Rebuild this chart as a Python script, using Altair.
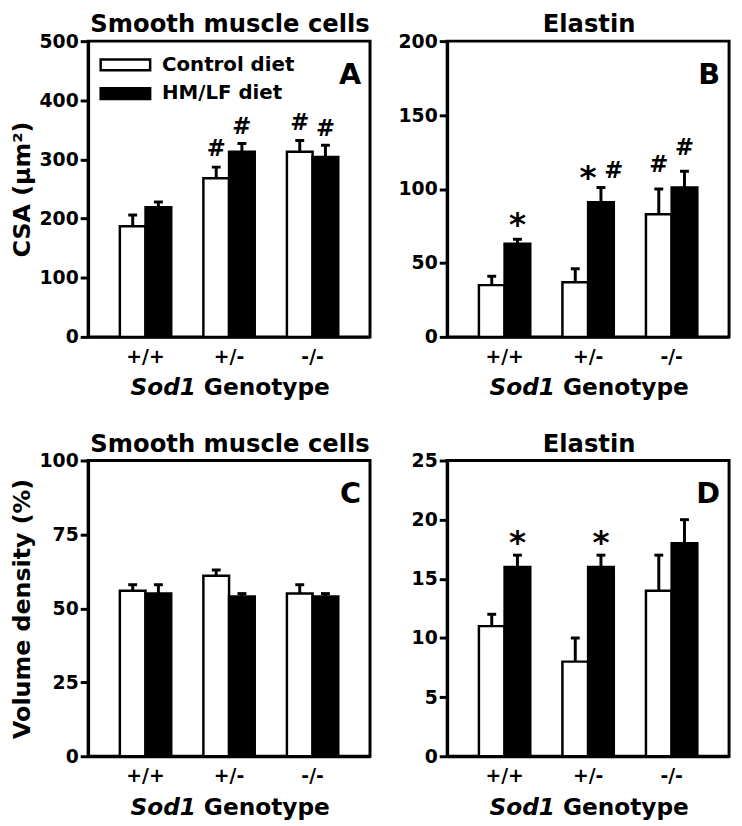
import altair as alt
import pandas as pd

genotypes = ["+/+", "+/-", "-/-"]
diets = ["Control diet", "HM/LF diet"]

# Panel A: smooth muscle cells, CSA (µm²)
a_control_mean = [187, 268, 313]
a_control_sem = [19, 19, 19]
a_hmlf_mean = [219, 313, 304]
a_hmlf_sem = [9, 14, 20]

# Panel B: elastin, CSA (µm²)
b_control_mean = [35, 37, 83]
b_control_sem = [6, 9, 17]
b_hmlf_mean = [63, 91, 101]
b_hmlf_sem = [3, 10, 11]

# Panel C: smooth muscle cells, volume density (%)
c_control_mean = [56, 61, 55]
c_control_sem = [2, 2, 3]
c_hmlf_mean = [55, 54, 54]
c_hmlf_sem = [3, 1, 1]

# Panel D: elastin, volume density (%)
d_control_mean = [11, 8, 14]
d_control_sem = [1, 2, 3]
d_hmlf_mean = [16, 16, 18]
d_hmlf_sem = [1, 1, 2]

# significance marks
ann_panel = ["A", "A", "A", "A", "B", "B", "B", "B", "B", "D", "D"]
ann_genotype = ["+/-", "+/-", "-/-", "-/-", "+/+", "+/-", "+/-", "-/-", "-/-", "+/+", "+/-"]
ann_diet = ["Control diet", "HM/LF diet", "Control diet", "HM/LF diet", "HM/LF diet",
            "HM/LF diet", "HM/LF diet", "Control diet", "HM/LF diet", "HM/LF diet", "HM/LF diet"]
ann_text = ["#", "#", "#", "#", "*", "*", "#", "#", "#", "*", "*"]
ann_y = [317, 355, 361, 352, 80, 112, 112, 116, 128, 18.6, 18.6]
ann_nudge = ["c", "c", "c", "c", "c", "l", "r", "c", "c", "c", "c"]

W, H = 285, 299

ann_df = pd.DataFrame({"panel": ann_panel, "genotype": ann_genotype, "diet": ann_diet,
                       "text": ann_text, "y": ann_y, "nudge": ann_nudge})


def make_df(cm, cs, hm, hs):
    rows = []
    for i, g in enumerate(genotypes):
        rows.append(dict(genotype=g, diet=diets[0], mean=cm[i], upper=cm[i] + cs[i]))
        rows.append(dict(genotype=g, diet=diets[1], mean=hm[i], upper=hm[i] + hs[i]))
    return pd.DataFrame(rows)


def xenc():
    return alt.X("genotype:N",
                 scale=alt.Scale(domain=genotypes, paddingInner=0.385, paddingOuter=0.38),
                 axis=alt.Axis(title=None, labelAngle=0))


def xoff():
    return alt.XOffset("diet:N", scale=alt.Scale(domain=diets, paddingInner=0, paddingOuter=0))


def yenc(field, ymax, ystep, ytitle):
    ax = alt.Axis(values=list(range(0, ymax + 1, ystep)), title=ytitle) if ytitle else \
        alt.Axis(values=list(range(0, ymax + 1, ystep)), title=None)
    return alt.Y(f"{field}:Q", scale=alt.Scale(domain=[0, ymax], nice=False), axis=ax)


def label(text, x, y, align, size, italic=False):
    kw = dict(align=align, baseline="alphabetic", fontSize=size, fontWeight="bold", color="black")
    if italic:
        kw["fontStyle"] = "italic"
    return alt.Chart(pd.DataFrame({"t": [text]})).mark_text(**kw).encode(
        text="t:N", x=alt.value(x), y=alt.value(y))


def panel(key, title, ytitle, ymax, ystep, letter, cm, cs, hm, hs, show_legend):
    df = make_df(cm, cs, hm, hs)
    if show_legend:
        legend = alt.Legend(title=None, orient="none", legendX=27.7, legendY=14,
                            symbolType="M-5,-1.1H5V1.1H-5Z", symbolSize=100,
                            symbolStrokeColor="black", symbolStrokeWidth=2.5,
                            labelFontSize=20, labelFontWeight="bold", labelColor="black",
                            labelOffset=27, rowPadding=7, padding=0)
    else:
        legend = None
    bars = alt.Chart(df).mark_bar(stroke="black", strokeWidth=2.5).encode(
        x=xenc(), xOffset=xoff(), y=yenc("mean", ymax, ystep, ytitle),
        fill=alt.Fill("diet:N", scale=alt.Scale(domain=diets, range=["white", "black"]), legend=legend),
    )
    rules = alt.Chart(df).mark_rule(color="black", strokeWidth=3).encode(
        x=xenc(), xOffset=xoff(), y=yenc("mean", ymax, ystep, ytitle), y2="upper:Q")
    caps = alt.Chart(df).mark_tick(color="black", thickness=3, size=9, opacity=1).encode(
        x=xenc(), xOffset=xoff(), y=yenc("upper", ymax, ystep, ytitle))
    layers = [bars, rules, caps]

    sub = ann_df[ann_df["panel"] == key]
    for sym, fs, dy in [("#", 23, 0), ("*", 33, 7)]:
        for nudge, dx in [("c", 0), ("l", -13), ("r", 13)]:
            part = sub[(sub["text"] == sym) & (sub["nudge"] == nudge)]
            if len(part) == 0:
                continue
            layers.append(alt.Chart(part).mark_text(
                fontSize=fs, fontWeight="bold", baseline="middle", align="center",
                dx=dx, dy=dy, color="black").encode(
                x=xenc(), xOffset=xoff(), y=yenc("y", ymax, ystep, ytitle), text="text:N"))

    layers.append(label(title, W / 2 + 1, -9, "center", 24.5))
    layers.append(label(letter, W - 9, 43, "right", 29))
    layers.append(label("Sod1", 109, H + 59, "right", 23.5, italic=True))
    layers.append(label("Genotype", 117, H + 59, "left", 23.5))

    return alt.layer(*layers).properties(width=W, height=H)


pA = panel("A", "Smooth muscle cells", "CSA (µm²)", 500, 100, "A",
           a_control_mean, a_control_sem, a_hmlf_mean, a_hmlf_sem, True)
pB = panel("B", "Elastin", None, 200, 50, "B",
           b_control_mean, b_control_sem, b_hmlf_mean, b_hmlf_sem, False)
pC = panel("C", "Smooth muscle cells", "Volume density (%)", 100, 25, "C",
           c_control_mean, c_control_sem, c_hmlf_mean, c_hmlf_sem, False)
pD = panel("D", "Elastin", None, 25, 5, "D",
           d_control_mean, d_control_sem, d_hmlf_mean, d_hmlf_sem, False)

chart = alt.concat(pA, pB, pC, pD, columns=2, spacing={"row": 125, "column": 78},
                   bounds="flush").resolve_legend(fill="independent").properties(
    padding={"left": 0, "top": -2, "right": 3, "bottom": 0}
).configure(font="DejaVu Sans", background="white").configure_view(
    stroke="black", strokeWidth=3
).configure_axis(
    grid=False, domainColor="black", domainWidth=3, labelColor="black",
    labelFontWeight="bold", labelFontSize=19, titleFontSize=24, titleFontWeight="bold",
    titleColor="black", tickColor="black", tickWidth=3
).configure_axisX(
    ticks=False, tickSize=0, labelPadding=11
).configure_axisY(
    tickSize=8, labelPadding=2, titlePadding=5
)

chart.save("out.html", embed_options={"renderer": "svg", "actions": False})
